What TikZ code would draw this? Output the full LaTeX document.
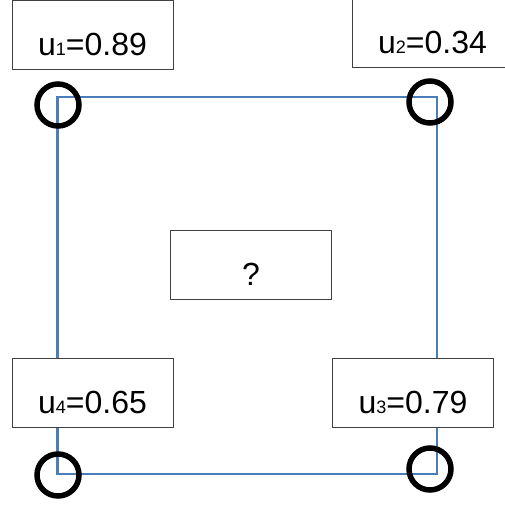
\documentclass[tikz,border=0pt]{standalone}
\usepackage{fontspec}
\setmainfont{Liberation Sans}
\definecolor{gridblue}{RGB}{74,126,187}
\definecolor{boxline}{RGB}{64,64,64}
% small index digit sitting on the baseline
\newcommand{\idx}[1]{{\fontsize{18}{18}\selectfont #1}}
\tikzset{
  valbox/.style={draw=boxline, line width=1pt, fill=white, inner sep=0pt,
    minimum width=161pt, text height=55pt, text depth=14pt,
    font=\fontsize{32}{38}\selectfont},
  cornermark/.style={circle, draw=black, line width=5.5pt, minimum size=42pt, inner sep=0pt},
  celledge/.style={draw=gridblue, line width=2.2pt}
}
\begin{document}
\begin{tikzpicture}[x=1pt,y=-1pt]
  \useasboundingbox (0,0) rectangle (505,506);
  \clip (0,0) rectangle (505,506);

  % corners of the cell
  \coordinate (nw) at (57.5,97);
  \coordinate (ne) at (437,97);
  \coordinate (se) at (437,474);
  \coordinate (sw) at (57.5,474);
  \draw[celledge] (nw) -- (ne) -- (se) -- (sw) -- cycle;

  % corner values
  \node[valbox] (v1) at (92.5,35) {u\idx{1}=0.89};
  \node[valbox] (v2) at (432.5,32.5) {u\idx{2}=0.34};
  \node[valbox] (v3) at (413,392.5) {u\idx{3}=0.79};
  \node[valbox] (v4) at (92.5,392.5) {u\idx{4}=0.65};
  \node[valbox] (q) at (251,264.5) {?};

  % corner markers
  \node[cornermark] (m1) at (58,105) {};
  \node[cornermark] (m2) at (430,102) {};
  \node[cornermark] (m3) at (430,469) {};
  \node[cornermark] (m4) at (58,475) {};
\end{tikzpicture}
\end{document}
